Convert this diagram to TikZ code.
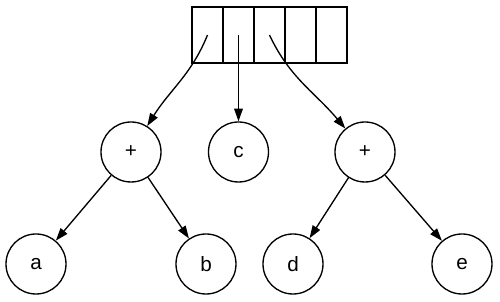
\documentclass[tikz,border=0pt]{standalone}
\usepackage{fontspec}
\setmainfont{Liberation Sans}
\usetikzlibrary{positioning,arrows.meta}

\begin{document}
\begin{tikzpicture}[x=0.75pt,y=0.75pt,line width=1pt,
    font=\fontsize{15.5}{18}\selectfont,
    cell/.style={draw,minimum width=23.25pt,minimum height=42pt,inner sep=0pt},
    vert/.style={draw,circle,minimum size=45pt,inner sep=0pt},
    arr/.style={-{Triangle[length=9.5pt,width=6.5pt]}}]
    \useasboundingbox (0,0) rectangle (500,302);
    % the array of five cells
    \foreach \i in {1,...,5}
      \node[cell] (cell\i) at ({192+31*(\i-0.5)},267) {};
    % the tree
    \node[vert] (plusl) at (131,150) {+};
    \node[vert] (c) at (238.5,150) {c};
    \node[vert] (plusr) at (365,150) {+};
    \node[vert] (a) at (36,38) {a};
    \node[vert] (b) at (206,38) {b};
    \node[vert] (d) at (293,38) {d};
    \node[vert] (e) at (462,38) {e};
    \draw[arr] (cell1.center) to[out=248,in=58] (plusl);
    \draw[arr] (cell2.center) -- (c);
    \draw[arr] (cell3.center) to[out=295,in=130] (plusr);
    \draw[arr] (plusl) -- (a);
    \draw[arr] (plusl) -- (b);
    \draw[arr] (plusr) -- (d);
    \draw[arr] (plusr) -- (e);
  \end{tikzpicture}
\end{document}
